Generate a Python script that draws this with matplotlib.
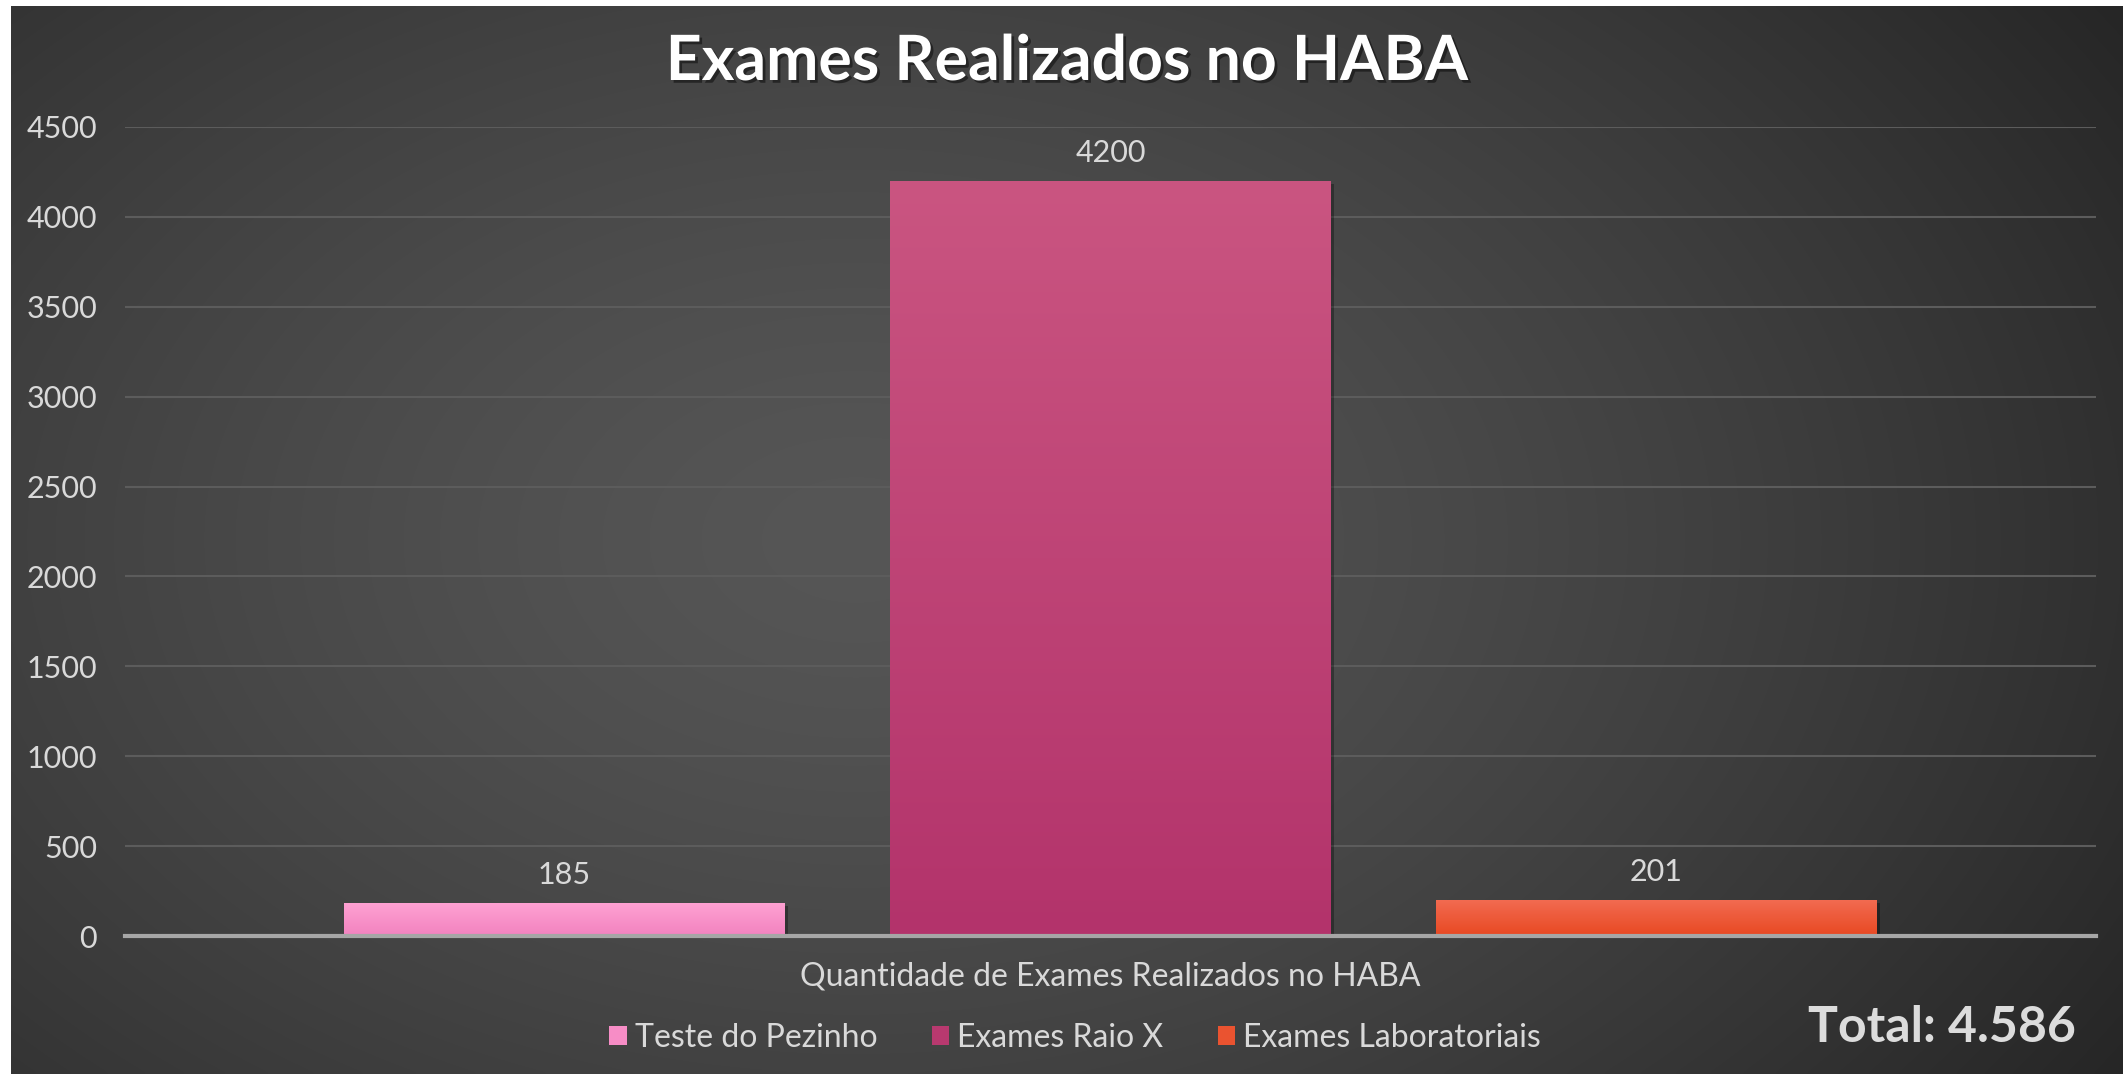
import numpy as np
import matplotlib
matplotlib.use("Agg")
import matplotlib.pyplot as plt
from matplotlib import patheffects as pe
from matplotlib.colors import LinearSegmentedColormap
from matplotlib.patches import Patch

# ---- data ----
title = "Exames Realizados no HABA"
category = "Quantidade de Exames Realizados no HABA"
series_names = ["Teste do Pezinho", "Exames Raio X", "Exames Laboratoriais"]
series_values = [185, 4200, 201]
total_label = "Total: 4.586"
y_ticks = [0, 500, 1000, 1500, 2000, 2500, 3000, 3500, 4000, 4500]

# ---- style ----
top_colors = ["#ffa2d3", "#ca5581", "#f26c52"]
bot_colors = ["#f282bf", "#b3336b", "#e84822"]
mid_colors = ["#f78dc6", "#b8396f", "#ea5330"]
txt = "#d9d9d9"
FONT = ["Lato", "DejaVu Sans"]
plt.rcParams["font.family"] = FONT

W, H = 2123, 1074
fig = plt.figure(figsize=(W / 100, H / 100), dpi=100, facecolor="white")

# background radial gradient (white border at top/left)
bx0, by1 = 11 / W, 1 - 6 / H
bg = fig.add_axes([bx0, 0, 1 - bx0, by1], zorder=-10)
gx = np.linspace(0, 1, 600)
gy = np.linspace(0, 1, 300)
X, Y = np.meshgrid(gx, gy)
r = np.sqrt(((X - 0.40) / 0.72) ** 2 + ((Y - 0.50) / 0.95) ** 2)
r = np.clip(r, 0, 1)
val = 86 - (86 - 37) * r ** 1.4
img = np.dstack([val, val, val]) / 255.0
bg.imshow(img, extent=[0, 1, 0, 1], origin="lower", aspect="auto", interpolation="bicubic")
bg.set_axis_off()

# main axes
ax_l, ax_r = 125 / W, 2096 / W
ax_b, ax_t = 1 - 936 / H, 1 - 127 / H
ax = fig.add_axes([ax_l, ax_b, ax_r - ax_l, ax_t - ax_b])
ax.patch.set_alpha(0)

n = len(series_values)
xpos = np.arange(n) - (n - 1) / 2
bw = 0.807
bars = ax.bar(xpos, series_values, width=bw, color=mid_colors, zorder=3,
              linewidth=0)
for b, c0, c1 in zip(bars, top_colors, bot_colors):
    b.set_path_effects([pe.SimplePatchShadow(offset=(2, -2), alpha=0.3, shadow_rgbFace="black"), pe.Normal()])
    cmap = LinearSegmentedColormap.from_list("g", [c1, c0])
    x0 = b.get_x()
    h = b.get_height()
    grad = np.linspace(0, 1, 256).reshape(-1, 1)
    im = ax.imshow(grad, extent=[x0, x0 + b.get_width(), 0, h], origin="lower",
                   aspect="auto", cmap=cmap, zorder=4)
    im.set_clip_path(b)

ax.set_xlim(-1.805, 1.805)
ax.set_ylim(0, 4500)
ax.set_yticks(y_ticks)
ax.set_yticklabels([str(v) for v in y_ticks])
ax.tick_params(axis="y", length=0, pad=20, labelsize=22, labelcolor=txt)
ax.set_xticks([0])
ax.set_xticklabels([category])
ax.tick_params(axis="x", length=0, pad=18, labelsize=23, labelcolor=txt)
ax.grid(axis="y", color="#5c5c5c", linewidth=1.5, zorder=0)
ax.set_axisbelow(True)
for s in ["top", "right", "left"]:
    ax.spines[s].set_visible(False)
ax.spines["bottom"].set_color("#a6a6a6")
ax.spines["bottom"].set_linewidth(3)
ax.spines["bottom"].set_zorder(5)

for b, v in zip(bars, series_values):
    ax.annotate(str(v), (b.get_x() + b.get_width() / 2, v), xytext=(0, 10),
                textcoords="offset points", ha="center", va="bottom",
                fontsize=22, color=txt, zorder=6)

# title
fig.text(1067 / W, 1 - 62 / H, title, ha="center", va="center", fontsize=45,
         fontweight="bold", color="white",
         path_effects=[pe.withSimplePatchShadow(offset=(2, -2), alpha=0.45, shadow_rgbFace="black")])

# legend
handles = [Patch(facecolor=c, edgecolor="none") for c in mid_colors]
leg = fig.legend(handles, series_names, loc="center", bbox_to_anchor=(1075 / W, 1 - 1038 / H),
                 ncol=3, frameon=False, fontsize=23, handlelength=0.55, handleheight=0.55,
                 handletextpad=0.25, columnspacing=1.7, labelcolor=txt)

# total
fig.text(2076 / W, 1 - 1027 / H, total_label, ha="right", va="center", fontsize=36,
         fontweight="bold", color="#dcdcdc")

fig.savefig("out.png", dpi=100, facecolor=fig.get_facecolor())
